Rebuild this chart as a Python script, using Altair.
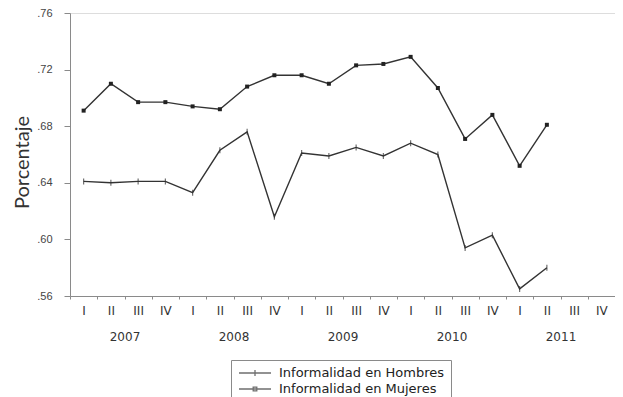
import altair as alt
import pandas as pd

quarters = ["I", "II", "III", "IV"]
years = ["2007", "2008", "2009", "2010", "2011"]
series_names = ["Informalidad en Hombres", "Informalidad en Mujeres"]
hombres = [0.641, 0.640, 0.641, 0.641, 0.633, 0.663, 0.676, 0.616, 0.661,
           0.659, 0.665, 0.659, 0.668, 0.660, 0.594, 0.603, 0.565, 0.580]
mujeres = [0.691, 0.710, 0.697, 0.697, 0.694, 0.692, 0.708, 0.716, 0.716,
           0.710, 0.723, 0.724, 0.729, 0.707, 0.671, 0.688, 0.652, 0.681]
y_ticks = [0.56, 0.60, 0.64, 0.68, 0.72, 0.76]

n_q = len(quarters) * len(years)
rows = []
for name, vals in zip(series_names, [hombres, mujeres]):
    for i, v in enumerate(vals):
        rows.append({"serie": name, "idx": i, "valor": v})
df = pd.DataFrame(rows)

W, H = 545, 283
TOP = 5
half = W / n_q / 2
LINE = "#333333"
AX = "#8a8a8a"

q_js = "[" + ",".join(f"'{q}'" for q in quarters) + "]"
y_js = "[" + ",".join(f"'{y}'" for y in years) + "]"

xscale = alt.Scale(domain=[0, n_q], nice=False, zero=False)
yscale = alt.Scale(domain=[y_ticks[0], y_ticks[-1]], nice=False, zero=False)

x_axis_q = alt.Axis(
    values=list(range(n_q + 1)), orient="bottom", title=None,
    labelExpr=f"datum.value < {n_q} ? {q_js}[datum.value % 4] : ''",
    labelOffset=half, labelFlush=False, labelOverlap=False,
    tickSize=3, labelPadding=6, grid=False,
    labelFont="DejaVu Sans", labelFontSize=12, labelColor="#333",
    domainColor=AX, tickColor=AX,
)
x_axis_y = alt.Axis(
    values=[4 * k + 2 for k in range(len(years))], orient="bottom", title=None,
    labelExpr=f"{y_js}[(datum.value - 2) / 4]",
    ticks=False, domain=False, labelPadding=35, labelFlush=False,
    labelOverlap=False, grid=False,
    labelFont="DejaVu Sans", labelFontSize=12, labelColor="#333",
)
y_axis = alt.Axis(
    values=y_ticks, title="Porcentaje",
    labelExpr="replace(format(datum.value, '.2f'), '0.', '.')",
    tickSize=6, labelPadding=12, grid=False,
    labelFont="Liberation Sans", labelFontSize=11, labelColor="#444",
    domainColor=AX, tickColor=AX,
    titleFont="Lato", titleFontSize=20, titleFontWeight="normal",
    titleColor="#333", titleX=-48, titleY=149, titleAngle=270,
    titleAlign="center", titleBaseline="middle",
)

base = alt.Chart(df).transform_calculate(t="datum.idx + 0.5")
X = alt.X("t:Q", scale=xscale, axis=x_axis_q)
Y = alt.Y("valor:Q", scale=yscale, axis=y_axis)

lines = base.mark_line(color=LINE, strokeWidth=1.4).encode(
    x=X, y=Y, detail="serie:N", order="idx:Q"
)
pts_h = base.transform_filter(alt.datum.serie == series_names[0]).mark_point(
    shape="M0,-1V1", size=36, filled=False, color=LINE, strokeWidth=1.2
).encode(x=X, y=Y)
pts_m = base.transform_filter(alt.datum.serie == series_names[1]).mark_point(
    shape="square", size=16, filled=True, color="#222", opacity=1
).encode(x=X, y=Y)

path_h = "M-2.67,0H2.67M0,-0.5V0.5"
path_m = "M-2.67,0H2.67M-0.3,-0.3H0.3V0.3H-0.3Z"
legend_layer = base.transform_filter("datum.idx < 0").mark_point(
    size=144, filled=False, color=LINE, strokeWidth=1.3
).encode(
    x=alt.X("t:Q", scale=xscale, axis=x_axis_y),
    shape=alt.Shape(
        "serie:N",
        scale=alt.Scale(domain=series_names, range=[path_h, path_m]),
        legend=alt.Legend(
            title=None, orient="none", legendX=161, legendY=360 - 8 - TOP,
            padding=6, strokeColor=AX, symbolSize=144, symbolOffset=11,
            labelOffset=17, labelFont="DejaVu Sans", labelFontSize=13,
            labelColor="#222", rowPadding=2, labelLimit=400,
            symbolStrokeColor=LINE, symbolFillColor=LINE, symbolStrokeWidth=1.3,
        ),
    ),
)

main = alt.layer(lines, pts_h, pts_m)
chart = alt.layer(main, legend_layer).resolve_axis(x="independent").properties(
    width=W, height=H,
    autosize=alt.AutoSizeParams(type="none"),
    padding={"left": 62, "top": TOP, "right": 0, "bottom": 101},
).configure_view(stroke=AX, strokeWidth=1).configure(background="white")

chart.save("out.html", embed_options={"renderer": "svg", "actions": False})
